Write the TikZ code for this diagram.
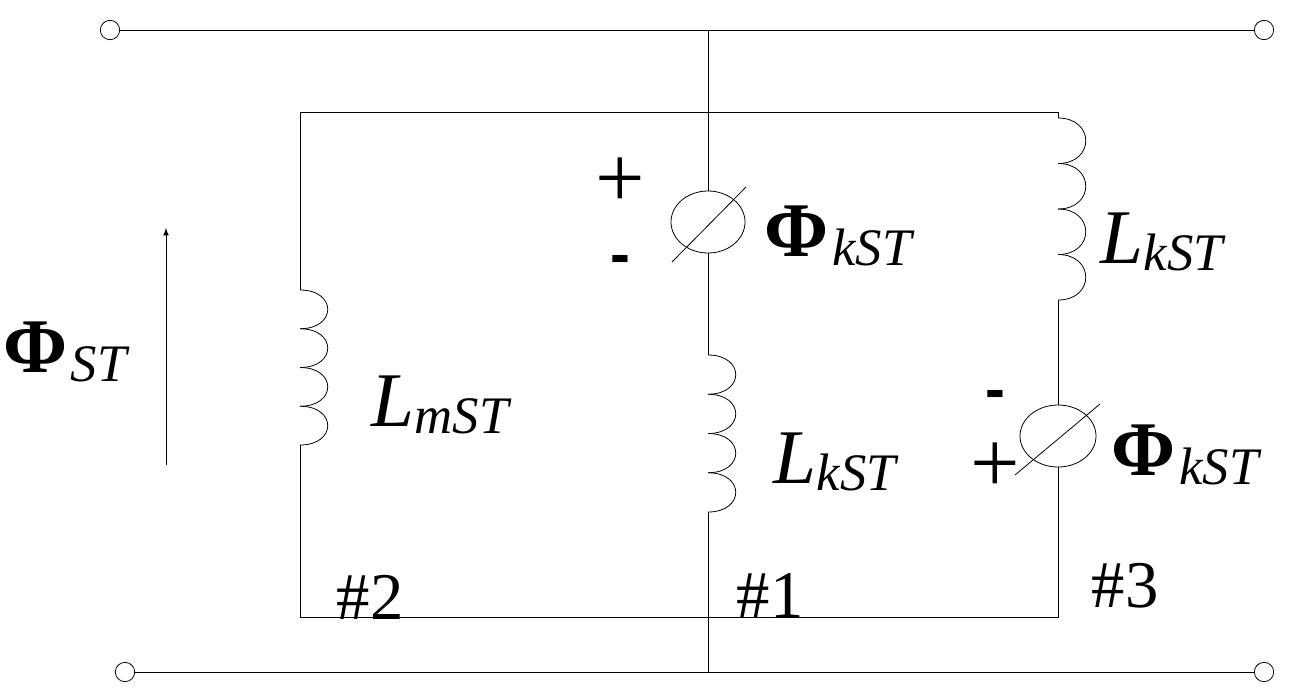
\documentclass[tikz,border=0pt]{standalone}
\usepackage{fontspec}
\setmainfont{Liberation Serif}
\newfontfamily\sansf{Liberation Sans}
\begin{document}
\begin{tikzpicture}[x=0.02cm,y=-0.02cm,line width=0.45pt,
  pm/.style={font=\sansf\fontsize{34}{36}\selectfont},
  pl/.style={font=\fontsize{50}{52}\selectfont},
  num/.style={font=\fontsize{38}{40}\selectfont},
  term/.style={circle,draw,minimum size=11pt,inner sep=0pt}]
\useasboundingbox (0,0) rectangle (1298,694);
\newcommand\flx[1]{{\bfseries\fontsize{44}{46}\selectfont Φ}\kern0.2em\raisebox{-0.5em}{\fontsize{30}{32}\selectfont\itshape #1}}
\newcommand\ind[1]{{\fontsize{44}{46}\selectfont\itshape L}\raisebox{-0.4em}{\fontsize{30}{32}\selectfont\itshape #1}}
% terminals
\node[term] (t1) at (110,30) {};
\node[term] (t2) at (1264,30) {};
\node[term] (b1) at (125,672) {};
\node[term] (b2) at (1264,672) {};
\draw (t1) -- (t2);
\draw (b1) -- (b2);
\coordinate (ct) at (708,30);
\coordinate (cb) at (708,672);
% sources
\draw (708,222) ellipse [x radius=37,y radius=31];
\coordinate (e1t) at (708,191); \coordinate (e1b) at (708,253);
\draw (672,262) -- (746,187);
\draw (1058,436) ellipse [x radius=38,y radius=31];
\coordinate (e2t) at (1058,405); \coordinate (e2b) at (1058,467);
\draw (1015,475) -- (1100,404);
% frame
\draw (300,290) -- (300,112) -- (1058,112) -- (1058,118);
\draw (300,445) -- (300,617) -- (1058,617) -- (e2b);
\draw (ct) -- (e1t);
\draw (e1b) -- (708,355);
\draw (708,512) -- (cb);
\draw (1058,300) -- (e2t);
% coils
\foreach \x/\y/\h in {300/290/38.75, 708/355/39.25, 1058/118/45.5}{
  \foreach \i in {0,...,3}{
    \draw (\x,\y+\i*\h) .. controls (\x+37,\y+\i*\h) and (\x+37,\y+\i*\h+\h) .. (\x,\y+\i*\h+\h);
  }
}
\draw[-latex] (166,465) -- (166,228);
% labels
\node (lst) at (65,352) {\flx{ST}};
\node (lm) at (440,405) {\ind{mST}};
\node (f1) at (838,236) {\flx{kST}};
\node (lk1) at (1162,242) {\ind{kST}};
\node (lk2) at (835,462) {\ind{kST}};
\node (f2) at (1185,455) {\flx{kST}};
\node[pl] (p1) at (620,183) {+};
\node[pm] (m1) at (620,265) {\bfseries -};
\node[pm] (m2) at (995,400) {\bfseries -};
\node[pl] (p2) at (995,468) {+};
\node[num] (n2) at (370,597) {\#2};
\node[num] (n1) at (770,595) {\#1};
\node[num] (n3) at (1125,586) {\#3};
\end{tikzpicture}
\end{document}
